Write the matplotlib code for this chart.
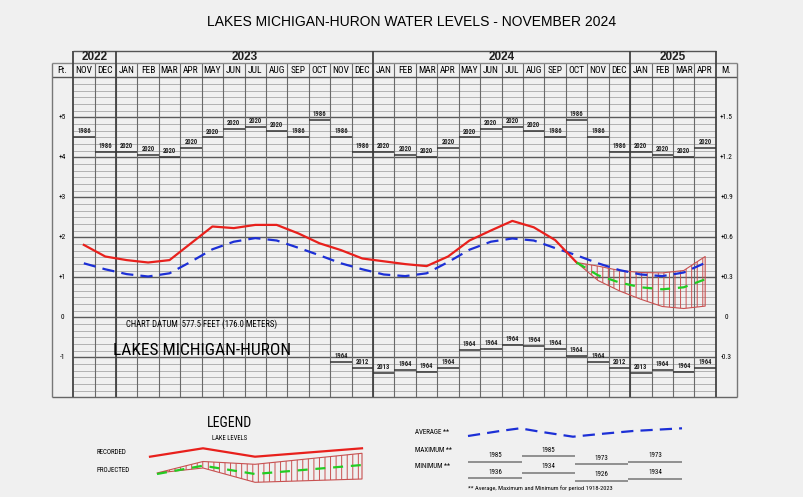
import numpy as np
import matplotlib
matplotlib.use("Agg")
import matplotlib.pyplot as plt

# ---- data (feet above chart datum 577.5 ft) ----
months = ["NOV", "DEC",
          "JAN", "FEB", "MAR", "APR", "MAY", "JUN", "JUL", "AUG", "SEP", "OCT", "NOV", "DEC",
          "JAN", "FEB", "MAR", "APR", "MAY", "JUN", "JUL", "AUG", "SEP", "OCT", "NOV", "DEC",
          "JAN", "FEB", "MAR", "APR"]
years = ["2022", "2023", "2024", "2025"]
year_months = [2, 12, 12, 4]

recorded = [1.81, 1.52, 1.43, 1.37, 1.43, 1.85, 2.27, 2.23, 2.31, 2.31, 2.10, 1.85,
            1.68, 1.47, 1.40, 1.33, 1.28, 1.52, 1.92, 2.17, 2.41, 2.25, 1.93, 1.37]
average = [1.35, 1.20, 1.08, 1.02, 1.10, 1.39, 1.70, 1.89, 1.98, 1.92, 1.74, 1.55,
           1.35, 1.20, 1.07, 1.03, 1.10, 1.38, 1.69, 1.89, 1.97, 1.92, 1.73, 1.55,
           1.35, 1.18, 1.07, 1.03, 1.12, 1.36]
# projection Oct 2024 .. Apr 2025
proj_start = 23
projected = [1.37, 1.05, 0.87, 0.75, 0.70, 0.75, 0.95]
proj_high = [1.37, 1.28, 1.17, 1.12, 1.11, 1.17, 1.52]
proj_low = [1.37, 0.92, 0.66, 0.45, 0.27, 0.22, 0.28]

rec_high = [4.52, 4.14, 4.14, 4.07, 4.02, 4.24, 4.50, 4.72, 4.77, 4.67, 4.52, 4.93,
            4.52, 4.14, 4.14, 4.07, 4.02, 4.24, 4.50, 4.72, 4.77, 4.67, 4.52, 4.93,
            4.52, 4.14, 4.14, 4.07, 4.02, 4.24]
rec_high_yr = ["1986", "1986", "2020", "2020", "2020", "2020", "2020", "2020", "2020", "2020",
               "1986", "1986", "1986", "1986", "2020", "2020", "2020", "2020", "2020", "2020",
               "2020", "2020", "1986", "1986", "1986", "1986", "2020", "2020", "2020", "2020"]
low_start = 12
rec_low = [-1.12, -1.26, -1.38, -1.32, -1.36, -1.26, -0.82, -0.78, -0.68, -0.72, -0.78, -0.96,
           -1.12, -1.26, -1.38, -1.32, -1.36, -1.26]
rec_low_yr = ["1964", "2012", "2013", "1964", "1964", "1964", "1964", "1964", "1964", "1964",
              "1964", "1964", "1964", "2012", "2013", "1964", "1964", "1964"]

ft_ticks = [5, 4, 3, 2, 1, 0, -1]
ft_labels = ["+5", "+4", "+3", "+2", "+1", "0", "-1"]
m_labels = ["+1.5", "+1.2", "+0.9", "+0.6", "+0.3", "0", "-0.3"]

BG = "#f0f0f0"
NARROW = ["Roboto Condensed", "DejaVu Sans"]
plt.rcParams["font.family"] = ["Liberation Sans", "DejaVu Sans"]
plt.rcParams["hatch.linewidth"] = 0.7

fig = plt.figure(figsize=(8.04, 4.97), dpi=100, facecolor=BG)

# legend / free drawing layer in pixel coordinates
lax = fig.add_axes([0, 0, 1, 1])
lax.set_xlim(0, 804)
lax.set_ylim(497, 0)
lax.axis("off")

ax = fig.add_axes([51.7 / 804, 1 - 397.3 / 497, 685.6 / 804, 320 / 497])
ax.set_facecolor(BG)
ax.set_xlim(-1, 31)
ax.set_ylim(-2, 6)
ax.axis("off")

n = len(months)
x_mid = np.arange(n) + 0.5
y_month_top = 6.35
y_year_top = 6.665

# horizontal grid (2-inch lines), darker at each foot
fine = np.arange(-2, 6.001, 1 / 6)
ax.hlines(fine, 0, n, color="#a8a8a8", lw=0.6, zorder=1)
ax.hlines(np.arange(-1, 6), 0, n, color="#5a5a5a", lw=1.0, zorder=1)
ax.hlines([6], -1, n + 1, color="#555", lw=1.0, clip_on=False, zorder=2)
ax.hlines([-2], -1, n + 1, color="#666", lw=1.0, clip_on=False, zorder=2)
ax.hlines([y_month_top], -1, n + 1, color="#888", lw=1.0, clip_on=False)
ax.hlines([y_year_top], 0, n, color="#555", lw=1.0, clip_on=False)

# vertical month lines
ax.vlines(np.arange(1, n), -2, y_month_top, color="#6a6a6a", lw=0.8, clip_on=False, zorder=1)
bounds = np.cumsum([0] + year_months)
ax.vlines(bounds, -2, y_year_top, color="#444", lw=1.3, clip_on=False, zorder=2)
ax.vlines([-1, n + 1], -2, y_month_top, color="#777", lw=1.0, clip_on=False, zorder=2)

# header text
for i, m in enumerate(months):
    ax.text(i + 0.5, 6.17, m, ha="center", va="center", fontsize=6.8,
            family=NARROW, clip_on=False)
ax.text(-0.5, 6.17, "Ft.", ha="center", va="center", fontsize=6.8, family=NARROW, clip_on=False)
ax.text(n + 0.5, 6.17, "M.", ha="center", va="center", fontsize=6.8, family=NARROW, clip_on=False)
for k, yr in enumerate(years):
    ax.text((bounds[k] + bounds[k + 1]) / 2, 6.51, yr, ha="center", va="center",
            fontsize=8.5, fontweight="bold", color="#222", clip_on=False)

# axis labels in side columns
for v, fl, ml in zip(ft_ticks, ft_labels, m_labels):
    ax.text(-0.5, v, fl, ha="center", va="center", fontsize=5.3, family=NARROW)
    ax.text(n + 0.5, v, ml, ha="center", va="center", fontsize=5.3, family=NARROW)

# record highs / lows
for i in range(n):
    ax.hlines(rec_high[i], i, i + 1, color="#333", lw=1.1, zorder=3)
    ax.text(i + 0.5, rec_high[i] + 0.04, rec_high_yr[i], ha="center", va="bottom",
            fontsize=4.8, family=NARROW, fontweight="bold", color="#222", zorder=4)
for j, v in enumerate(rec_low):
    i = low_start + j
    ax.hlines(v, i, i + 1, color="#333", lw=1.1, zorder=3)
    ax.text(i + 0.5, v + 0.04, rec_low_yr[j], ha="center", va="bottom",
            fontsize=4.8, family=NARROW, fontweight="bold", color="#222", zorder=4)

# projection fan
xp = x_mid[proj_start:proj_start + len(projected)]
ax.fill_between(xp, proj_low, proj_high, facecolor="none", edgecolor="#c85050",
                hatch="|||", lw=0.8, zorder=4)

# series
ax.plot(x_mid, average, color="#1c2fd6", lw=1.6, dashes=(5.5, 3.2), zorder=5)
ax.plot(x_mid[:len(recorded)], recorded, color="#e8201c", lw=1.6, zorder=6)
ax.plot(xp, projected, color="#22cc22", lw=1.6, dashes=(4.5, 3.5), zorder=6)

ax.text(6.0, -0.17, "CHART DATUM  577.5 FEET (176.0 METERS)", ha="center", va="center",
        fontsize=6.2, family=NARROW)
ax.text(6.0, -0.82, "LAKES MICHIGAN-HURON", ha="center", va="center",
        fontsize=12.5, family=NARROW)

fig.text(412 / 804, 1 - 22 / 497, "LAKES MICHIGAN-HURON WATER LEVELS - NOVEMBER 2024",
         ha="center", va="center", fontsize=10)

# ---- legend (pixel coordinates of the sample glyphs) ----
rec_lx = [150, 203, 255, 362]
rec_ly = [456.7, 448.3, 456.7, 448.3]
fan_lx = [157, 203, 255, 362]
fan_top = [473, 461.5, 464.3, 453.3]
fan_bot = [473, 468, 482.3, 479]
proj_ly = [474, 465.7, 474, 465]
avg_lx = [468, 500, 520, 540, 573, 600, 633, 682]
avg_ly = [436, 431, 428.3, 431.7, 436.7, 434, 431, 428.3]
seg_x = [468, 522, 575, 628, 682]
max_y = [461.7, 456, 464, 461.7]
max_yr = ["1985", "1985", "1973", "1973"]
min_y = [478.3, 472.7, 480.7, 479]
min_yr = ["1936", "1934", "1926", "1934"]

lax.text(230, 423, "LEGEND", ha="center", va="center", fontsize=10, family=NARROW)
lax.text(230, 438, "LAKE LEVELS", ha="center", va="center", fontsize=4.8, family=NARROW)
lax.text(97, 453, "RECORDED", ha="left", va="center", fontsize=5, family=NARROW)
lax.text(97, 470, "PROJECTED", ha="left", va="center", fontsize=5, family=NARROW)
lax.plot(rec_lx, rec_ly, color="#e8201c", lw=1.6)
lax.fill_between(fan_lx, fan_top, fan_bot, facecolor="none", edgecolor="#c85050",
                 hatch="|||", lw=0.8)
lax.plot(fan_lx, proj_ly, color="#22cc22", lw=1.6, dashes=(4.5, 3.5))

lax.text(415, 433, "AVERAGE **", ha="left", va="center", fontsize=5, family=NARROW)
lax.text(415, 450, "MAXIMUM **", ha="left", va="center", fontsize=5, family=NARROW)
lax.text(415, 466.7, "MINIMUM **", ha="left", va="center", fontsize=5, family=NARROW)
lax.plot(avg_lx, avg_ly, color="#1c2fd6", lw=1.6, dashes=(5.5, 3.2))
for k in range(4):
    lax.hlines(max_y[k], seg_x[k], seg_x[k + 1], color="#888", lw=1.3)
    lax.text((seg_x[k] + seg_x[k + 1]) / 2, max_y[k] - 2.5, max_yr[k], ha="center",
             va="bottom", fontsize=5, family=NARROW)
    lax.hlines(min_y[k], seg_x[k], seg_x[k + 1], color="#888", lw=1.3)
    lax.text((seg_x[k] + seg_x[k + 1]) / 2, min_y[k] - 2.5, min_yr[k], ha="center",
             va="bottom", fontsize=5, family=NARROW)
lax.text(468, 488, "** Average, Maximum and Minimum for period 1918-2023", ha="left",
         va="center", fontsize=4.6, family=NARROW)

fig.savefig("out.png", dpi=100, facecolor=BG)
